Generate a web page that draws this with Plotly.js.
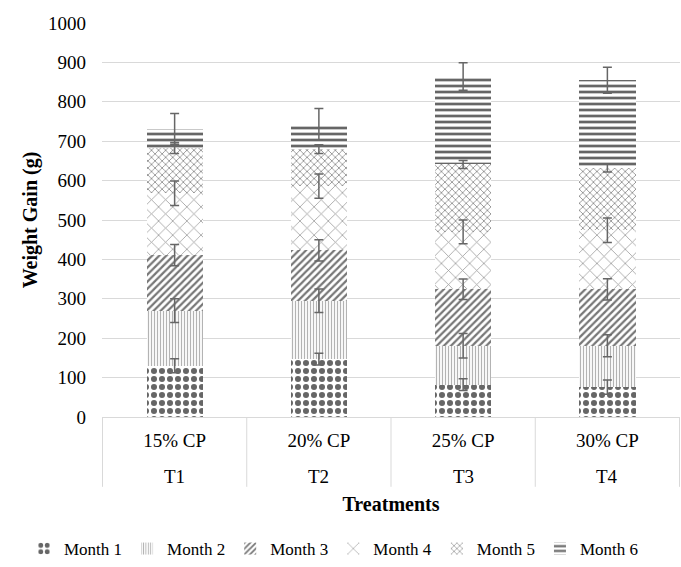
<!DOCTYPE html>
<html>
<head>
<meta charset="utf-8">
<script src="https://cdn.plot.ly/plotly-3.0.1.min.js"></script>
<style>html,body{margin:0;padding:0;background:#fff;}#chart{width:681px;height:567px;}</style>
</head>
<body>
<div id="chart"></div>
<script>
// Data
var protein = ["15% CP", "20% CP", "25% CP", "30% CP"];
var treatments = ["T1", "T2", "T3", "T4"];
var seriesNames = ["Month 1", "Month 2", "Month 3", "Month 4", "Month 5", "Month 6"];
var month1 = [130, 147, 82, 76];
var month2 = [140, 148, 99, 105];
var month3 = [141, 128, 143, 143];
var month4 = [157, 163, 146, 150];
var month5 = [115, 94, 171, 158];
var month6 = [48, 63, 223, 223];
var err1 = [18, 15, 15, 18];
var err2 = [30, 30, 31, 28];
var err3 = [27, 27, 26, 27];
var err4 = [31, 31, 30, 31];
var err5 = [14, 11, 10, 10];
var err6 = [39, 40, 35, 33];

var values = [month1, month2, month3, month4, month5, month6];
var errors = [err1, err2, err3, err4, err5, err6];
var patterns = [
  {shape: ".", fgcolor: "#666666", bgcolor: "#ffffff", size: 8, solidity: 0.45, fillmode: "replace"},
  {shape: "|", fgcolor: "#b3b3b3", bgcolor: "#ffffff", size: 3, solidity: 0.4, fillmode: "replace"},
  {shape: "/", fgcolor: "#777777", bgcolor: "#ffffff", size: 5, solidity: 0.45, fillmode: "replace"},
  {shape: "x", fgcolor: "#999999", bgcolor: "#ffffff", size: 10, solidity: 0.15, fillmode: "replace"},
  {shape: "x", fgcolor: "#8c8c8c", bgcolor: "#ffffff", size: 5, solidity: 0.3, fillmode: "replace"},
  {shape: "-", fgcolor: "#666666", bgcolor: "#ffffff", size: 6, solidity: 0.45, fillmode: "replace"}
];

var traces = seriesNames.map(function(name, i) {
  return {
    type: "bar",
    name: name,
    x: protein,
    y: values[i],
    marker: {color: "#ffffff", line: {width: 0}, pattern: patterns[i]},
    hoverinfo: "y"
  };
});

// error bars drawn on top of the stacked segments (at each segment top)
var running = protein.map(function() { return 0; });
values.forEach(function(v, i) {
  running = running.map(function(r, j) { return r + v[j]; });
  traces.push({
    type: "scatter",
    mode: "markers",
    x: protein,
    y: running.slice(),
    marker: {size: 1, opacity: 0},
    showlegend: false,
    hoverinfo: "skip",
    error_y: {type: "data", array: errors[i], visible: true, color: "#666666", thickness: 1.5, width: 4.5}
  });
});

var font = "Liberation Serif, Times New Roman, serif";
var plotTop = 23, plotBottom = 418, plotH = plotBottom - plotTop;
var plotLeft = 102, plotW = 578;
function py(px) { return (plotBottom - px) / plotH; }
function pxr(px) { return (px - plotLeft) / plotW; }

var shapes = [];
for (var k = 0; k <= protein.length; k++) {
  shapes.push({type: "line", xref: "x", yref: "paper", x0: k - 0.5, x1: k - 0.5,
    y0: 0, y1: py(488), line: {color: "#d9d9d9", width: 1}});
}
var annotations = treatments.map(function(t, i) {
  return {xref: "x", yref: "paper", x: protein[i], y: py(478), text: t, showarrow: false,
    xanchor: "center", yanchor: "middle", font: {family: font, size: 19, color: "#000"}};
});

var layout = {
  width: 681, height: 567,
  margin: {l: 102, r: 1, t: 23, b: 149},
  paper_bgcolor: "#ffffff", plot_bgcolor: "#ffffff",
  barmode: "stack",
  bargap: 0.61,
  font: {family: font, size: 19, color: "#000000"},
  xaxis: {
    type: "category",
    title: {text: "<b>Treatments</b>", font: {family: font, size: 20}, standoff: 47},
    tickfont: {family: font, size: 19},
    showline: true, linecolor: "#d9d9d9", linewidth: 1,
    ticks: "", showgrid: false, zeroline: false, ticklabelstandoff: 6
  },
  yaxis: {
    range: [0, 1000],
    dtick: 100,
    title: {text: "<b>Weight Gain (g)</b>", font: {family: font, size: 20}, standoff: 5},
    tickfont: {family: font, size: 19},
    gridcolor: "#d9d9d9", gridwidth: 1,
    zeroline: false, showline: false, ticks: "", ticklabelstandoff: 15
  },
  shapes: shapes,
  annotations: annotations,
  showlegend: true,
  legend: {
    orientation: "h", x: pxr(24), xanchor: "left", y: py(549), yanchor: "middle",
    font: {family: font, size: 17}, traceorder: "normal", itemwidth: 30
  }
};

Plotly.newPlot("chart", traces, layout, {displayModeBar: false, staticPlot: true});
</script>
</body>
</html>
